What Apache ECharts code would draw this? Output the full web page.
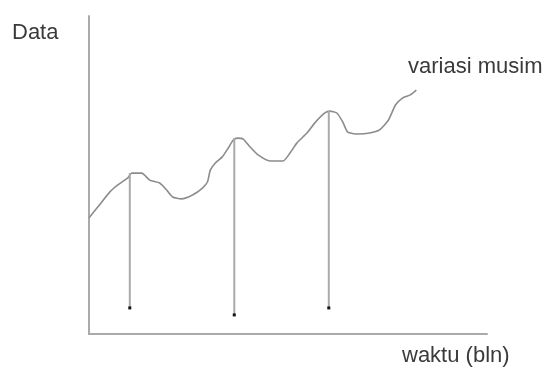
<!DOCTYPE html>
<html>
<head>
<meta charset="utf-8">
<script src="https://cdn.jsdelivr.net/npm/echarts@6/dist/echarts.min.js"></script>
<style>
  html, body { margin: 0; padding: 0; background: #fff; }
  #chart { width: 548px; height: 370px; }
</style>
</head>
<body>
<div id="chart"></div>
<script>
// time (bln) and data value along the seasonal curve
const curveX = [0, 0.9, 2.1, 2.9, 3.9, 4.3, 5.3, 6.1, 7.1, 7.8, 8.4, 9.3, 10.4, 11.4, 11.9, 12.2, 12.7, 13.4, 14.0, 14.5, 14.9, 15.5, 16.2, 17.0, 18.2, 19.5, 20.2, 20.9, 21.9, 22.7, 23.7, 24.2, 24.9, 25.5, 26.0, 27.0, 28.2, 29.2, 30.1, 30.8, 31.5, 32.3, 32.9];
const curveY = [36.5, 40, 44.7, 46.9, 49.1, 50.6, 50.6, 48.4, 47.5, 45.3, 43.1, 42.5, 43.7, 45.9, 47.8, 51.6, 53.8, 55.7, 58.5, 61.0, 61.6, 61.3, 58.8, 56.3, 54.4, 54.4, 56.9, 60.1, 63.2, 66.4, 69.5, 70.1, 69.5, 66.7, 63.5, 62.9, 63.2, 64.2, 67.3, 72.0, 74.2, 75.2, 76.7];

// drop lines from the seasonal peaks
const peakX = [4.1, 14.6, 24.1];
const peakTop = [50.6, 61.6, 70.1];
const peakBottom = [8.2, 6.0, 8.2];

const yName = 'Data';
const xName = 'waktu (bln)';
const curveName = 'variasi musim';

const chart = echarts.init(document.getElementById('chart'));

const axisStyle = {
  axisLine: { show: true, lineStyle: { color: '#aaaaaa', width: 2 } },
  axisTick: { show: false },
  axisLabel: { show: false },
  splitLine: { show: false }
};

const dropSeries = peakX.map((x, i) => ({
  type: 'line',
  silent: true,
  showSymbol: true,
  lineStyle: { color: '#aaaaaa', width: 2 },
  data: [
    { value: [x, peakTop[i]], symbol: 'none' },
    { value: [x, peakBottom[i]], symbol: 'rect', symbolSize: 3, itemStyle: { color: '#111' } }
  ]
}));

const textStyle = { fill: '#3a3a3a', fontSize: 22, fontFamily: 'Liberation Sans, Arial, sans-serif' };

chart.setOption({
  animation: false,
  grid: { left: 89, right: 61, top: 16, bottom: 36 },
  xAxis: Object.assign({ type: 'value', min: 0, max: 40 }, axisStyle),
  yAxis: Object.assign({ type: 'value', min: 0, max: 100 }, axisStyle),
  series: [
    {
      type: 'line',
      name: curveName,
      smooth: 0.2,
      showSymbol: false,
      lineStyle: { color: '#8c8c8c', width: 1.6 },
      data: curveX.map((x, i) => [x, curveY[i]])
    }
  ].concat(dropSeries),
  graphic: [
    { type: 'text', left: 12, top: 22, style: Object.assign({ text: yName }, textStyle) },
    { type: 'text', left: 408, top: 56, style: Object.assign({ text: curveName }, textStyle) },
    { type: 'text', left: 402, top: 345, style: Object.assign({ text: xName }, textStyle) }
  ]
});
</script>
</body>
</html>
